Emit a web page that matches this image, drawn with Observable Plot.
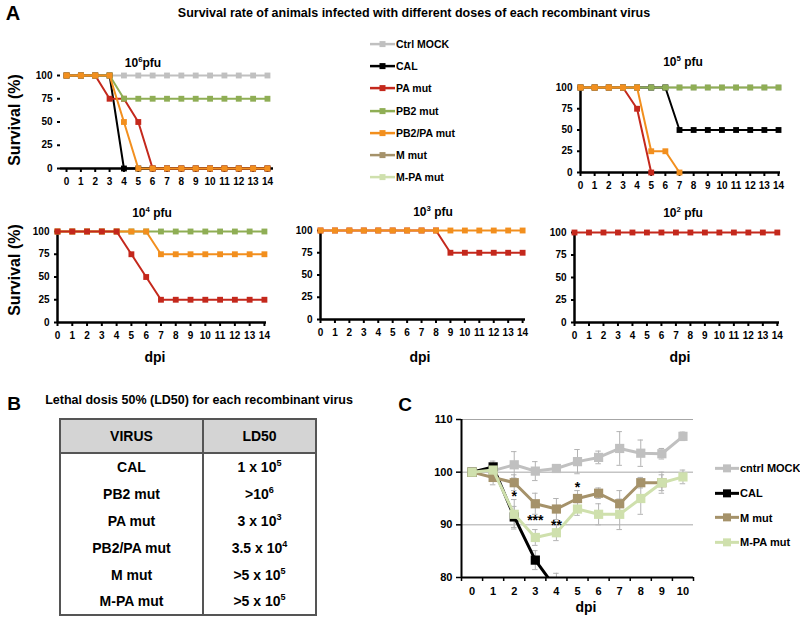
<!DOCTYPE html>
<html><head><meta charset="utf-8">
<script src="https://cdn.jsdelivr.net/npm/d3@7"></script>
<script src="https://cdn.jsdelivr.net/npm/@observablehq/plot@0.6"></script>
<style>
body{margin:0;background:#fff}
#root{position:relative;width:800px;height:617px;overflow:hidden;font-family:"Liberation Sans",Arial,sans-serif;font-weight:bold;color:#000;background:#fff}
.abs{position:absolute}
.ctr{position:absolute;transform:translate(-50%,-50%);white-space:nowrap}
sup{font-size:65%;vertical-align:super;line-height:0}
table{border-collapse:collapse}
</style></head><body><div id="root"></div>
<script>
// ---------- DATA ----------
const days = [0,1,2,3,4,5,6,7,8,9,10,11,12,13,14];
const survTicks = [0,25,50,75,100];
const seriesNames  = ["Ctrl MOCK","CAL","PA mut","PB2 mut","PB2/PA mut","M mut","M-PA mut"];
const seriesColors = ["#c0c0c0","#000000","#c4281c","#8fae55","#f28f1e","#a5926a","#cfe0ad"];

// 10^6 pfu
const d6Mock  = [100,100,100,100,100,100,100,100,100,100,100,100,100,100,100];
const d6Cal   = [100,100,100,100,0,0,0,0,0,0,0,0,0,0,0];
const d6PA    = [100,100,100,75,75,50,0,0,0,0,0,0,0,0,0];
const d6PB2   = [100,100,100,100,75,75,75,75,75,75,75,75,75,75,75];
const d6PB2PA = [100,100,100,100,50,0,0,0,0,0,0,0,0,0,0];
// 10^5 pfu
const d5Mock  = [100,100,100,100,100,100,100,100,100,100,100,100,100,100,100];
const d5Cal   = [100,100,100,100,100,100,100,50,50,50,50,50,50,50,50];
const d5PA    = [100,100,100,100,75,0];
const d5PB2   = [100,100,100,100,100,100,100,100,100,100,100,100,100,100,100];
const d5PB2PA = [100,100,100,100,100,25,25,0];
// 10^4 pfu
const d4PB2   = [100,100,100,100,100,100,100,100,100,100,100,100,100,100,100];
const d4PB2PA = [100,100,100,100,100,100,100,75,75,75,75,75,75,75,75];
const d4PA    = [100,100,100,100,100,75,50,25,25,25,25,25,25,25,25];
// 10^3 pfu
const d3PA    = [100,100,100,100,100,100,100,100,100,75,75,75,75,75,75];
const d3PB2PA = [100,100,100,100,100,100,100,100,100,100,100,100,100,100,100];
// 10^2 pfu
const d2PA    = [100,100,100,100,100,100,100,100,100,100,100,100,100,100,100];

// Panel B: LD50 table
const ldHeader = ["VIRUS","LD50"];
const ldVirus  = ["CAL","PB2 mut","PA mut","PB2/PA mut","M mut","M-PA mut"];
const ldBase   = ["1 x 10",">10","3 x 10","3.5 x 10",">5 x 10",">5 x 10"];
const ldExp    = ["5","6","3","4","5","5"];

// Panel C: weight (%)
const wDays    = [0,1,2,3,4,5,6,7,8,9,10];
const wNames   = ["cntrl MOCK","CAL","M mut","M-PA mut"];
const wColors  = ["#c0c0c0","#000000","#a5926a","#cfe0ad"];
const wMock    = [100,100.3,101.4,100.2,100.7,102,102.8,104.5,103.6,103.5,106.8];
const wMockErr = [0.4,1.8,2.5,1.8,0.5,2.3,1.2,3.2,2.5,1.0,0.8];
const wCal     = [100,101,91.5,83.3,77.8];
const wCalErr  = [0.3,0.5,2.0,1.8,3.0];
const wM       = [100,99,98,94,93,95,96,94,98,98];
const wMErr    = [0.3,1.4,1.5,2.0,2.0,1.5,1.0,2.5,1.0,1.5];
const wMPA     = [100,100.4,92,87.6,88.5,93,92,92,95,98,99.1];
const wMPAErr  = [0.3,1.0,2.8,1.5,1.5,1.2,2.0,2.9,3.0,2.0,1.3];
const sigDays   = [2,3,4,5];
const sigLabels = ["*","***","**","*"];
const sigLevels = [95.4,90.8,89.8,97.0];

// ---------- HELPERS ----------
const root = document.getElementById("root");
function addText(html, cx, cy, size, extra="") {
  const d = document.createElement("div");
  d.className = "ctr";
  d.style.cssText = `left:${cx}px;top:${cy}px;font-size:${size}px;${extra}`;
  d.innerHTML = html;
  root.appendChild(d);
  return d;
}
function place(svg, left, top) {
  svg.style.position = "absolute";
  svg.style.left = left+"px";
  svg.style.top = top+"px";
  svg.style.maxWidth = "none";
  svg.style.overflow = "visible";
  root.appendChild(svg);
}
const baseStyle = {fontFamily:'"Liberation Sans",Arial,sans-serif', fontWeight:"bold", fontSize:"10px", background:"transparent", overflow:"visible"};

function survivalPanel(p) {
  const marks = [Plot.ruleY([0], {stroke:"#000", strokeWidth:2.5})];
  if (p.yLine) marks.push(Plot.ruleX([p.xmin], {y1:0, y2:100, stroke:"#000", strokeWidth:2.5}));
  marks.push(Plot.axisX({ticks:days, tickSize:4, tickPadding:5, strokeWidth:2, tickFormat:d=>String(d), fontSize:10, label:null}));
  marks.push(Plot.axisY({ticks:survTicks, tickSize:3, tickPadding:5, strokeWidth:2, fontSize:10, label:null}));
  for (const [si, vals] of p.lines) {
    const rows = vals.map((v,i)=>({day:days[i], value:v}));
    marks.push(Plot.line(rows, {x:"day", y:"value", stroke:seriesColors[si], strokeWidth:2}));
    marks.push(Plot.dot(rows, {x:"day", y:"value", symbol:"square", r:3.3, fill:seriesColors[si], stroke:null}));
  }
  const svg = Plot.plot({
    width:p.width, height:p.height,
    marginLeft:p.ml, marginRight:p.mr, marginTop:p.mt, marginBottom:p.mb,
    x:{domain:[p.xmin,p.xmax]}, y:{domain:[0,100]},
    style:baseStyle, marks
  });
  place(svg, p.left, p.top);
  addText(`10<sup>${p.exp}</sup>${p.space?" ":""}pfu`, p.tx, p.ty, 12);
}

function legend(names, colors, o) {
  const box = document.createElement("div");
  box.className = "abs";
  box.style.cssText = `left:${o.left}px;top:${o.top}px;font-size:${o.fs}px`;
  names.forEach((n,i)=>{
    const row = document.createElement("div");
    row.style.cssText = `height:${o.rowH}px;display:flex;align-items:center;white-space:nowrap`;
    const h = o.rowH;
    row.innerHTML = `<svg width="${o.sw}" height="${h}" style="flex:none"><line x1="0" x2="${o.sw}" y1="${h/2}" y2="${h/2}" stroke="${colors[i]}" stroke-width="${o.lw}"/><rect x="${o.sw/2-o.sq/2}" y="${h/2-o.sq/2}" width="${o.sq}" height="${o.sq}" fill="${colors[i]}"/></svg><span style="margin-left:1px">${n}</span>`;
    box.appendChild(row);
  });
  root.appendChild(box);
}

// ---------- PANEL A ----------
addText("A", 13, 13, 20);
addText("Survival rate of animals infected with different doses of each recombinant virus", 414, 13, 12.5);

const panels = [
  {exp:"6", space:false, tx:143, ty:63, left:0,   top:55,  width:280, height:140, ml:60, mr:7,  mt:20, mb:27, xmin:-0.42, xmax:14.42, yLine:false,
   lines:[[0,d6Mock],[1,d6Cal],[2,d6PA],[3,d6PB2],[4,d6PB2PA]]},
  {exp:"5", space:true,  tx:683, ty:62, left:520, top:60,  width:280, height:140, ml:60, mr:20, mt:27, mb:28, xmin:0, xmax:14.14, yLine:true,
   lines:[[0,d5Mock],[1,d5Cal],[2,d5PA],[3,d5PB2],[4,d5PB2PA]]},
  {exp:"4", space:true,  tx:152, ty:213, left:0,  top:195, width:280, height:160, ml:57, mr:14, mt:36, mb:33, xmin:0, xmax:14.14, yLine:true,
   lines:[[3,d4PB2],[4,d4PB2PA],[2,d4PA]]},
  {exp:"3", space:true,  tx:433, ty:212, left:270, top:195, width:270, height:160, ml:50, mr:15, mt:35, mb:36, xmin:0, xmax:14.2, yLine:true,
   lines:[[2,d3PA],[4,d3PB2PA]]},
  {exp:"2", space:true,  tx:683, ty:213, left:520, top:195, width:280, height:160, ml:54, mr:21, mt:37, mb:33, xmin:0, xmax:14.15, yLine:true,
   lines:[[2,d2PA]]}
];
panels.forEach(survivalPanel);

addText("Survival (%)", 15, 120, 16, "transform:translate(-50%,-50%) rotate(-90deg)");
addText("Survival (%)", 15, 270, 16, "transform:translate(-50%,-50%) rotate(-90deg)");
addText("dpi", 155, 357, 14);
addText("dpi", 420, 357, 14);
addText("dpi", 680, 357, 14);

legend(seriesNames, seriesColors, {left:370, top:33, rowH:22.2, sw:25, lw:2.5, sq:6, fs:10.5});

// ---------- PANEL B ----------
addText("B", 14, 404, 19);
addText("Lethal dosis 50% (LD50) for each recombinant virus", 199, 400, 12.5);
(function(){
  const t = document.createElement("table");
  t.className = "abs";
  t.style.cssText = "left:59px;top:418px;width:258px;font-size:14px;text-align:center;border:2px solid #555";
  let html = `<tr style="height:34px;background:#d4d4d4"><td style="width:139px;border:2px solid #555">${ldHeader[0]}</td><td style="border:2px solid #555">${ldHeader[1]}</td></tr>`;
  ldVirus.forEach((v,i)=>{
    html += `<tr style="height:27px"><td style="border-right:2px solid #555;padding:0">${v}</td><td style="padding:0">${ldBase[i]}<sup>${ldExp[i]}</sup></td></tr>`;
  });
  t.innerHTML = html;
  root.appendChild(t);
})();

// ---------- PANEL C ----------
addText("C", 405, 405, 19);
(function(){
  const sets = [[wMock,wMockErr],[wCal,wCalErr],[wM,wMErr],[wMPA,wMPAErr]];
  const boundaries = wDays.map(d=>d-0.5).concat([wDays[wDays.length-1]+0.5]);
  const marks = [Plot.ruleY([90,100,110], {stroke:"#a6a6a6", strokeWidth:1})];
  sets.forEach(([vals,errs])=>{
    const rows = vals.map((v,i)=>({day:wDays[i], lo:v-errs[i], hi:v+errs[i]}));
    marks.push(Plot.ruleX(rows, {x:"day", y1:"lo", y2:"hi", stroke:"#b3b3b3", strokeWidth:1, clip:true}));
    marks.push(Plot.ruleY(rows, {y:"hi", x1:d=>d.day-0.13, x2:d=>d.day+0.13, stroke:"#b3b3b3", strokeWidth:1, clip:true}));
    marks.push(Plot.ruleY(rows, {y:"lo", x1:d=>d.day-0.13, x2:d=>d.day+0.13, stroke:"#b3b3b3", strokeWidth:1, clip:true}));
  });
  marks.push(Plot.ruleX([-0.5], {stroke:"#000", strokeWidth:2}));
  marks.push(Plot.ruleY([80], {stroke:"#000", strokeWidth:2}));
  marks.push(Plot.axisY({ticks:[80,90,100,110], tickSize:5, tickPadding:4, strokeWidth:1.5, fontSize:11, label:null}));
  marks.push(Plot.axisX({ticks:wDays, tickSize:0, tickPadding:10, fontSize:11, label:null}));
  marks.push(Plot.axisX({ticks:boundaries, tickSize:4, tickFormat:()=>"", strokeWidth:1.5, label:null}));
  sets.forEach(([vals],si)=>{
    const rows = vals.map((v,i)=>({day:wDays[i], value:v}));
    marks.push(Plot.line(rows, {x:"day", y:"value", stroke:wColors[si], strokeWidth:3, clip:true}));
    marks.push(Plot.dot(rows, {x:"day", y:"value", symbol:"square", r:5.2, fill:wColors[si], stroke:null, clip:true}));
  });
  const sig = sigDays.map((d,i)=>({day:d, y:sigLevels[i], label:sigLabels[i]}));
  marks.push(Plot.text(sig, {x:"day", y:"y", text:"label", fontSize:14, fontWeight:"bold"}));
  const svg = Plot.plot({
    width:410, height:217, marginLeft:71, marginRight:107, marginTop:19, marginBottom:40,
    x:{domain:[-0.5,10.5]}, y:{domain:[80,110]},
    style:{...baseStyle, fontSize:"11px"}, marks
  });
  place(svg, 390, 400);
  addText("dpi", 586, 607, 14);
  legend(wNames, wColors, {left:715, top:456, rowH:24.7, sw:24, lw:3, sq:8, fs:11});
})();
</script></body></html>
